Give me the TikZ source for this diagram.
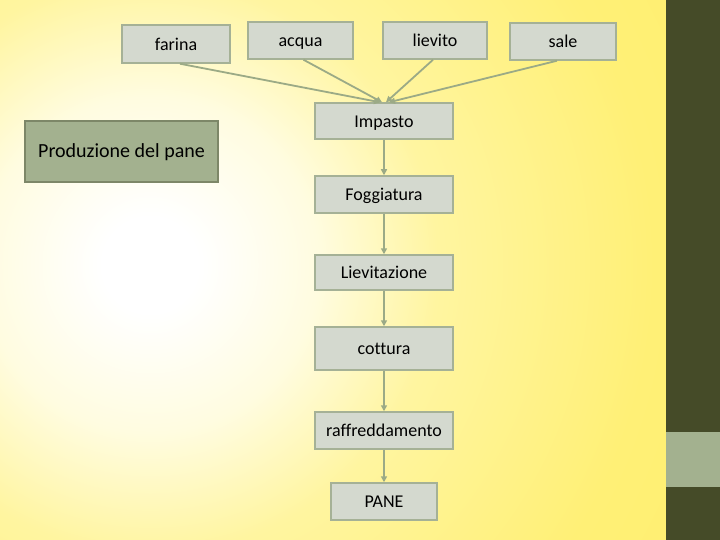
\documentclass[tikz,border=0pt]{standalone}
\usepackage{fontspec}
\setmainfont{Carlito}[Ligatures=NoCommon]
\usetikzlibrary{arrows.meta}
\definecolor{boxfill}{HTML}{D4D9CF}
\definecolor{boxline}{HTML}{A5B196}
\definecolor{arrowcol}{HTML}{9BAA86}
\definecolor{titlefill}{HTML}{A3B18F}
\definecolor{titleline}{HTML}{7D8768}
\definecolor{barcol}{HTML}{454B28}
\definecolor{bandcol}{HTML}{A3B18F}
\definecolor{yA}{HTML}{FFFCE0}
\definecolor{yB}{HTML}{FFF5A0}
\definecolor{yC}{HTML}{FFF076}
\definecolor{yD}{HTML}{FFEA58}
\pgfdeclareradialshading{bgshade}{\pgfpoint{0bp}{0bp}}{color(0bp)=(white); color(2bp)=(white); color(7bp)=(yA); color(12bp)=(yB); color(21bp)=(yC); color(50bp)=(yD)}
\tikzset{
  stepbox/.style={draw=boxline, line width=1.5pt, fill=boxfill, inner sep=0pt, font=\fontsize{18}{21}\selectfont, text=black, text height=16pt, text depth=3.6pt},
  titlebox/.style={draw=titleline, line width=2pt, fill=titlefill, inner sep=0pt, font=\fontsize{20}{24}\selectfont, text=black, text height=16.5pt, text depth=4pt},
  flow/.style={draw=arrowcol, line width=1.8pt, -{Triangle[length=6pt,width=6pt]}}
}
\begin{document}
\begin{tikzpicture}[x=1pt,y=-1pt]
\useasboundingbox (0,0) rectangle (720,540);
\begin{scope}
\clip (0,0) rectangle (720,540);
\shade[shading=bgshade] (150,265) circle (600);
\end{scope}
\fill[barcol] (666,0) rectangle (720,540);
\fill[bandcol] (666,432) rectangle (720,487);

\node[stepbox, minimum width=108pt, minimum height=38pt] (farina) at (176,44) {farina};
\node[stepbox, minimum width=105pt, minimum height=37pt] (acqua) at (300.5,40.5) {acqua};
\node[stepbox, minimum width=104pt, minimum height=37pt] (lievito) at (435,40.5) {lievito};
\node[stepbox, minimum width=106pt, minimum height=37pt] (sale) at (563,41.5) {sale};

\node[stepbox, minimum width=138pt, minimum height=36pt] (impasto) at (384,121) {Impasto};
\node[stepbox, minimum width=138pt, minimum height=37pt] (foggiatura) at (384,194.5) {Foggiatura};
\node[stepbox, minimum width=138pt, minimum height=35pt] (lievitazione) at (384,272.5) {Lievitazione};
\node[stepbox, minimum width=138pt, minimum height=43pt] (cottura) at (384,348.5) {cottura};
\node[stepbox, minimum width=138pt, minimum height=37pt] (raffreddamento) at (384,430.5) {raffreddamento};
\node[stepbox, minimum width=106pt, minimum height=37pt] (pane) at (384,501.5) {PANE};

\node[titlebox, minimum width=193pt, minimum height=61pt] (titolo) at (121.5,151.5) {Produzione del pane};

\draw[flow] ([xshift=4pt]farina.south) -- ([xshift=-4pt]impasto.north);
\draw[flow] ([xshift=3pt]acqua.south) -- ([xshift=-2pt]impasto.north);
\draw[flow] ([xshift=-2pt]lievito.south) -- ([xshift=2pt]impasto.north);
\draw[flow] ([xshift=-6pt]sale.south) -- ([xshift=5pt]impasto.north);

\draw[flow] (impasto) -- (foggiatura);
\draw[flow] (foggiatura) -- (lievitazione);
\draw[flow] (lievitazione) -- (cottura);
\draw[flow] (cottura) -- (raffreddamento);
\draw[flow] (raffreddamento) -- (pane);
\end{tikzpicture}
\end{document}
